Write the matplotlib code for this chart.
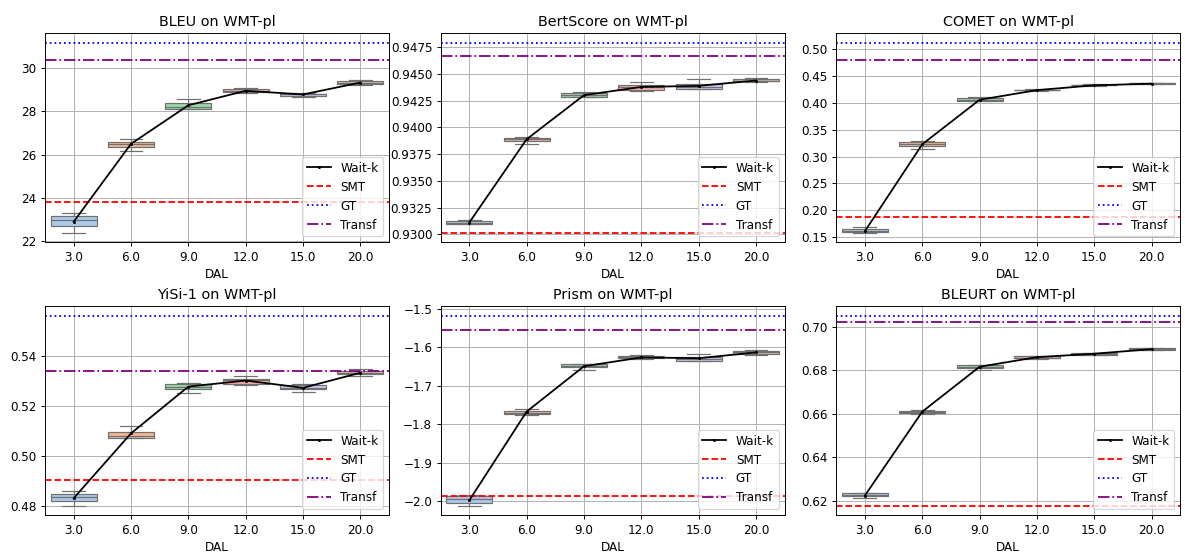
import colorsys
import matplotlib
matplotlib.use("Agg")
import matplotlib.pyplot as plt
from matplotlib.colors import to_rgb
from matplotlib.ticker import MultipleLocator

dal = ["3.0", "6.0", "9.0", "12.0", "15.0", "20.0"]

# per DAL: (whisker low, q1, median, q3, whisker high)
bleu_boxes = [(22.39, 22.69, 23.0, 23.15, 23.31), (26.18, 26.37, 26.49, 26.6, 26.71),
              (28.09, 28.13, 28.2, 28.39, 28.56), (28.84, 28.88, 28.94, 29.03, 29.1),
              (28.67, 28.7, 28.78, 28.82, 28.85), (29.2, 29.25, 29.33, 29.39, 29.47)]
bleu_mean = [22.9, 26.5, 28.28, 28.95, 28.78, 29.33]
bleu_ref = [23.81, 31.17, 30.35]  # SMT, GT, Transf

bert_boxes = [(0.93096, 0.93099, 0.9311, 0.93124, 0.93134), (0.93844, 0.93869, 0.93888, 0.93906, 0.9391),
              (0.94284, 0.9429, 0.94306, 0.94321, 0.9433), (0.94343, 0.94355, 0.9438, 0.94398, 0.94423),
              (0.9436, 0.94362, 0.94375, 0.94404, 0.94457), (0.9443, 0.94431, 0.9444, 0.94457, 0.9446)]
bert_mean = [0.9311, 0.9389, 0.94303, 0.9438, 0.9439, 0.9444]
bert_ref = [0.93014, 0.94794, 0.94669]

comet_boxes = [(0.158, 0.1593, 0.161, 0.1655, 0.1686), (0.314, 0.320, 0.3238, 0.327, 0.329),
               (0.403, 0.4042, 0.406, 0.4086, 0.412), (0.423, 0.4235, 0.4243, 0.425, 0.426),
               (0.432, 0.4333, 0.4339, 0.4343, 0.435), (0.435, 0.4362, 0.4368, 0.4373, 0.438)]
comet_mean = [0.161, 0.323, 0.406, 0.424, 0.433, 0.436]
comet_ref = [0.1874, 0.5124, 0.4796]

yisi_boxes = [(0.4803, 0.482, 0.4839, 0.4849, 0.4861), (0.5071, 0.5072, 0.508, 0.5097, 0.5119),
              (0.525, 0.5269, 0.5275, 0.5288, 0.5293), (0.5285, 0.5287, 0.5302, 0.5309, 0.532),
              (0.5257, 0.5268, 0.5273, 0.5285, 0.5288), (0.5321, 0.5329, 0.5333, 0.534, 0.5345)]
yisi_mean = [0.4833, 0.5091, 0.5277, 0.5301, 0.5272, 0.5332]
yisi_ref = [0.4907, 0.5559, 0.5338]

prism_boxes = [(-2.012, -2.004, -1.995, -1.986, -1.984), (-1.777, -1.774, -1.77, -1.765, -1.761),
               (-1.659, -1.652, -1.649, -1.644, -1.642), (-1.63, -1.628, -1.625, -1.622, -1.62),
               (-1.635, -1.634, -1.63, -1.625, -1.618), (-1.619, -1.617, -1.613, -1.61, -1.607)]
prism_mean = [-1.998, -1.767, -1.649, -1.626, -1.628, -1.613]
prism_ref = [-1.986, -1.5174, -1.5537]

bleurt_boxes = [(0.6211, 0.622, 0.6227, 0.6235, 0.6237), (0.6601, 0.6603, 0.6609, 0.6614, 0.6616),
                (0.6802, 0.6813, 0.6818, 0.6825, 0.6827), (0.6853, 0.6855, 0.6859, 0.6865, 0.6867),
                (0.6872, 0.6873, 0.6876, 0.6879, 0.688), (0.6893, 0.6895, 0.6899, 0.6902, 0.6904)]
bleurt_mean = [0.6224, 0.661, 0.6817, 0.6861, 0.6877, 0.6898]
bleurt_ref = [0.6177, 0.7052, 0.7023]

panels = [("BLEU", bleu_boxes, bleu_mean, bleu_ref, 2),
          ("BertScore", bert_boxes, bert_mean, bert_ref, 0.0025),
          ("COMET", comet_boxes, comet_mean, comet_ref, 0.05),
          ("YiSi-1", yisi_boxes, yisi_mean, yisi_ref, 0.02),
          ("Prism", prism_boxes, prism_mean, prism_ref, 0.1),
          ("BLEURT", bleurt_boxes, bleurt_mean, bleurt_ref, 0.02)]

pastel = ['#a1c9f4', '#ffb482', '#8de5a1', '#ff9f9b', '#d0bbff', '#debb9b']


def desat(c, prop=0.75):
    h, l, s = colorsys.rgb_to_hls(*to_rgb(c))
    return colorsys.hls_to_rgb(h, l, s * prop)


box_colors = [desat(c) for c in pastel]
edge = (0.44, 0.44, 0.44)

fig, axes = plt.subplots(2, 3, figsize=(1185 / 86, 554 / 86), dpi=86)
plt.subplots_adjust(left=0.038, right=0.996, top=0.94, bottom=0.07, wspace=0.15, hspace=0.306)

for ax, (name, boxes, mean, ref, step) in zip(axes.flat, panels):
    stats = []
    for b in boxes:
        stats.append({"whislo": b[0], "q1": b[1], "med": b[2], "q3": b[3], "whishi": b[4], "fliers": []})
    pos = list(range(len(dal)))
    bp = ax.bxp(stats, positions=pos, widths=0.8, patch_artist=True, showfliers=False,
                boxprops=dict(edgecolor=edge, linewidth=1),
                whiskerprops=dict(color=edge, linewidth=1),
                capprops=dict(color=edge, linewidth=1),
                medianprops=dict(color=edge, linewidth=1))
    for patch, c in zip(bp["boxes"], box_colors):
        patch.set_facecolor(c)
    ax.plot(pos, mean, color="black", marker=".", markersize=3, linewidth=1.5, label="Wait-k", zorder=3)
    ax.axhline(ref[0], color="red", linestyle="--", label="SMT")
    ax.axhline(ref[1], color="blue", linestyle=":", label="GT")
    ax.axhline(ref[2], color="purple", linestyle="-.", label="Transf")
    ax.set_xlim(-0.5, len(dal) - 0.5)
    ax.set_xticks(pos)
    ax.set_xticklabels(dal)
    ax.yaxis.set_major_locator(MultipleLocator(step))
    ax.set_xlabel("DAL")
    ax.set_title(name + " on WMT-pl")
    ax.grid(True)
    ax.legend(loc="lower right")

plt.savefig("out.png")
